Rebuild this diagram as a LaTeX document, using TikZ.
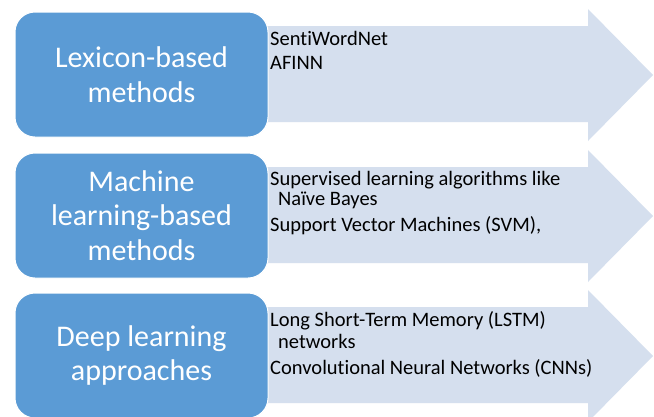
\documentclass[tikz,border=0pt]{standalone}
\usepackage{fontspec}
\setmainfont{Carlito}[Ligatures=NoCommon]

\definecolor{boxblue}{HTML}{5B9BD5}
\definecolor{arrowblue}{HTML}{D5DFEE}

\tikzset{methode/.style = {draw=white, line width=1pt, fill=boxblue, rounded corners=20pt,
                           text=white, font=\fontsize{30}{34.5}\selectfont, align=center,
                           minimum width=253pt, minimum height=125pt, inner sep=0pt},
         fleche/.style = {fill=arrowblue, draw=none},
         item/.style = {anchor=west, font=\fontsize{20.5}{24}\selectfont, inner sep=0pt}
        }

\begin{document}
\begin{tikzpicture}[x=1pt, y=-1pt]
  \useasboundingbox (0, 0) rectangle (654, 416);
  \fill[white] (0, 0) rectangle (654, 416);
  % arrows
  \fill[fleche] (262, 26) -- (588, 26) -- (588, 9) -- (653, 75) -- (588, 141) -- (588, 122) -- (262, 122) -- cycle;
  \fill[fleche] (262, 167) -- (588, 167) -- (588, 150) -- (653, 216) -- (588, 282) -- (588, 263) -- (262, 263) -- cycle;
  \fill[fleche] (262, 307) -- (588, 307) -- (588, 290) -- (653, 356) -- (588, 422) -- (588, 403) -- (262, 403) -- cycle;
  % boxes
  \node[methode] (lexicon) at (141.5, 74.5) {Lexicon-based\\methods};
  \node[methode] (machine) at (141.5, 215.5) {Machine\\learning-based\\methods};
  \node[methode] (deep) at (141.5, 355.5) {Deep learning\\approaches};
  % items
  \node[item] (senti) at (270, 38) {SentiWordNet};
  \node[item] (afinn) at (270, 63) {AFINN};
  \node[item] (superv) at (270, 180) {Supervised learning algorithms like};
  \node[item] (naive) at (278, 200) {Naïve Bayes};
  \node[item] (svm) at (270, 226) {Support Vector Machines (SVM),};
  \node[item] (lstm) at (270, 321) {Long Short-Term Memory (LSTM)};
  \node[item] (netw) at (278, 341) {networks};
  \node[item] (cnn) at (270, 368) {Convolutional Neural Networks (CNNs)};
\end{tikzpicture}
\end{document}
